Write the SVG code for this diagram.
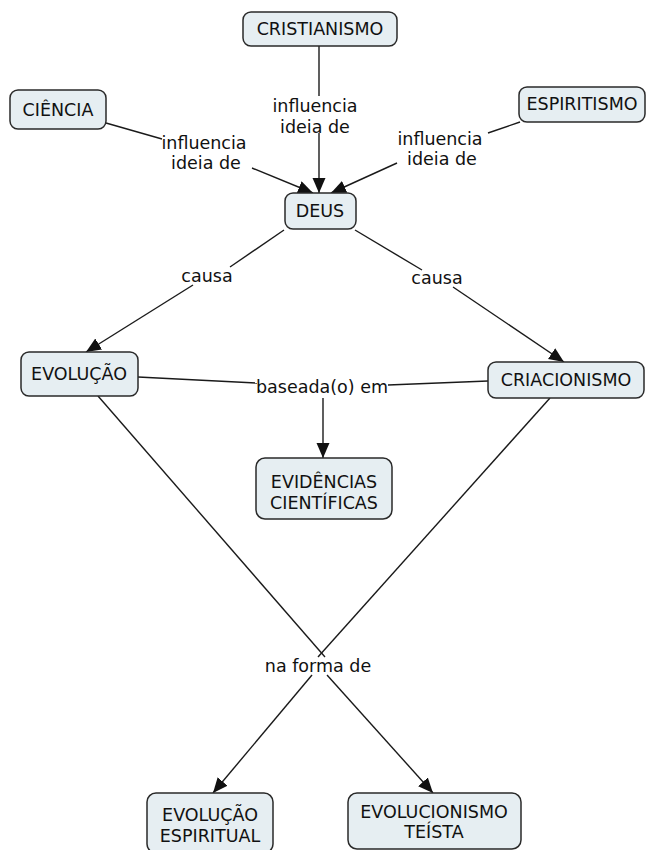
<svg xmlns="http://www.w3.org/2000/svg" width="651" height="850" viewBox="0 0 651 850">
<defs>
<style>
.node rect{fill:#e6eef2;stroke:#2a2a2a;stroke-width:1.5}
text{font-family:"DejaVu Sans","Liberation Sans",sans-serif;font-size:17.5px;fill:#111;text-anchor:middle}
#connectors line{stroke:#1a1a1a;stroke-width:1.4;fill:none}
</style>
<marker id="arr" markerUnits="userSpaceOnUse" markerWidth="16" markerHeight="14" refX="15" refY="6.5" orient="auto">
<path d="M0,0 L15,6.5 L0,13 z" fill="#111"/>
</marker>
</defs>
<rect width="651" height="850" fill="#ffffff"/>
<g id="connectors">
<line x1="319" y1="46" x2="319" y2="96"/>
<line x1="319" y1="133" x2="319" y2="193" marker-end="url(#arr)"/>
<line x1="106" y1="123" x2="162" y2="139"/>
<line x1="252" y1="168" x2="313" y2="193" marker-end="url(#arr)"/>
<line x1="520" y1="122" x2="488" y2="133"/>
<line x1="397" y1="163" x2="331" y2="193" marker-end="url(#arr)"/>
<line x1="284" y1="230" x2="230" y2="267"/>
<line x1="193" y1="285" x2="86" y2="352" marker-end="url(#arr)"/>
<line x1="355" y1="230" x2="422" y2="270"/>
<line x1="453" y1="287" x2="564" y2="362" marker-end="url(#arr)"/>
<line x1="138" y1="377" x2="257" y2="383"/>
<line x1="488" y1="381" x2="388" y2="385"/>
<line x1="323" y1="398" x2="323" y2="458" marker-end="url(#arr)"/>
<line x1="98" y1="396" x2="325" y2="657"/>
<line x1="550" y1="398" x2="318" y2="657"/>
<line x1="312" y1="675" x2="213" y2="793" marker-end="url(#arr)"/>
<line x1="327" y1="675" x2="433" y2="793" marker-end="url(#arr)"/>
</g>
<g id="labels">
<text x="315" y="112">influencia</text>
<text x="315" y="133">ideia de</text>
<text x="204" y="149">influencia</text>
<text x="206" y="169">ideia de</text>
<text x="440" y="145">influencia</text>
<text x="442" y="165">ideia de</text>
<text x="207" y="282">causa</text>
<text x="437" y="284">causa</text>
<text x="322" y="393">baseada(o) em</text>
<text x="318" y="672">na forma de</text>
</g>
<g id="cristianismo" class="node"><rect x="243" y="12" width="154" height="34" rx="8"/><text x="320" y="35">CRISTIANISMO</text></g>
<g id="ciencia" class="node"><rect x="10" y="90" width="96" height="39" rx="8"/><text x="58" y="116">CIÊNCIA</text></g>
<g id="espiritismo" class="node"><rect x="519" y="87" width="126" height="35" rx="8"/><text x="582" y="110">ESPIRITISMO</text></g>
<g id="deus" class="node"><rect x="285" y="193" width="71" height="36" rx="8"/><text x="320" y="217">DEUS</text></g>
<g id="evolucao" class="node"><rect x="21" y="352" width="117" height="44" rx="8"/><text x="79" y="380">EVOLUÇÃO</text></g>
<g id="criacionismo" class="node"><rect x="488" y="362" width="156" height="36" rx="8"/><text x="566" y="386">CRIACIONISMO</text></g>
<g id="evidencias" class="node"><rect x="256" y="458" width="136" height="61" rx="9"/><text x="324" y="488">EVIDÊNCIAS</text><text x="324" y="509">CIENTÍFICAS</text></g>
<g id="evolucao-espiritual" class="node"><rect x="147" y="793" width="126" height="60" rx="9"/><text x="210" y="821">EVOLUÇÃO</text><text x="210" y="842">ESPIRITUAL</text></g>
<g id="evolucionismo-teista" class="node"><rect x="348" y="793" width="173" height="56" rx="9"/><text x="434" y="818">EVOLUCIONISMO</text><text x="434" y="838">TEÍSTA</text></g>
</svg>
